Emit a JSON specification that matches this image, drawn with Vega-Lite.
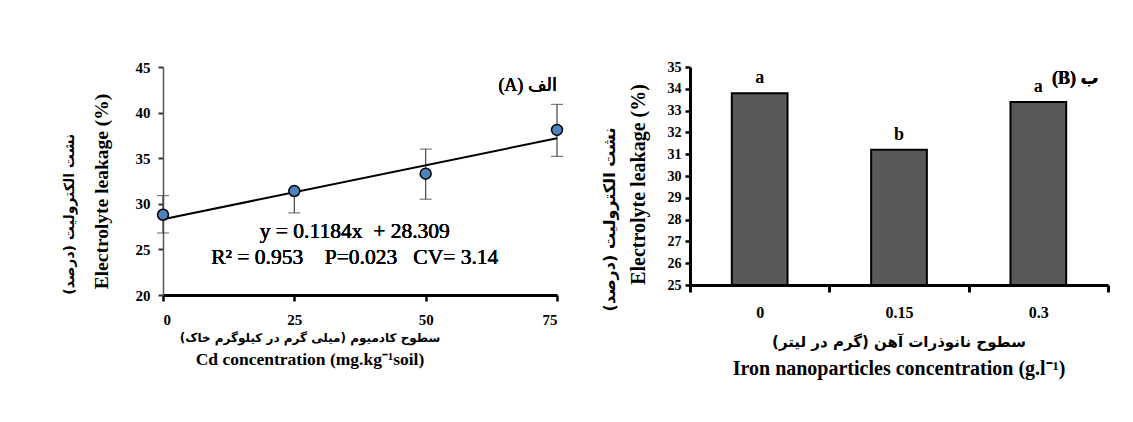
{
  "$schema": "https://vega.github.io/schema/vega-lite/v6.json",
  "padding": {"left": 62, "top": 60, "right": 5, "bottom": 5},
  "spacing": 35,
  "config": {"view": {"stroke": null}, "font": "Liberation Serif"},
  "hconcat": [
    {
      "title": {"text": "نشت الکترولیت (درصد)", "orient": "left", "anchor": "middle", "font": "DejaVu Sans", "fontSize": 14, "fontWeight": "bold", "color": "black", "offset": 14},
      "hconcat": [
        {
          "width": 394,
          "height": 228,
          "title": {
            "text": "سطوح کادمیوم (میلی گرم در کیلوگرم خاک)",
            "subtitle": "Cd concentration (mg.kg⁻¹soil)",
            "orient": "bottom",
            "anchor": "middle",
            "dx": -50,
            "font": "DejaVu Sans",
            "fontSize": 12,
            "fontWeight": "bold",
            "color": "black",
            "subtitleFont": "Liberation Serif",
            "subtitleFontSize": 17.5,
            "subtitleFontWeight": "bold",
            "subtitleColor": "black",
            "offset": 6,
            "subtitlePadding": 6
          },
          "data": {
            "values": [
              {"cd": 0, "leak": 28.8, "lo": 26.8, "hi": 30.9},
              {"cd": 25, "leak": 31.4, "lo": 29.0, "hi": 31.4},
              {"cd": 50, "leak": 33.3, "lo": 30.5, "hi": 36.0},
              {"cd": 75, "leak": 38.1, "lo": 35.2, "hi": 40.9}
            ]
          },
          "layer": [
            {
              "mark": {"type": "rule", "color": "#444", "strokeWidth": 1.2},
              "encoding": {
                "x": {"field": "cd", "type": "quantitative", "scale": {"domain": [0, 75], "nice": false},
                  "axis": {"values": [0, 25, 50, 75], "title": null, "grid": false, "domainWidth": 3, "domainColor": "black", "tickWidth": 2.5, "tickColor": "black", "tickSize": 6, "labelFont": "Liberation Serif", "labelFontWeight": "bold", "labelFontSize": 15, "labelColor": "black", "labelPadding": 11}},
                "y": {"field": "lo", "type": "quantitative", "title": "Electrolyte leakage (%)", "scale": {"domain": [20, 45], "nice": false, "zero": false},
                  "axis": {"values": [20, 25, 30, 35, 40, 45], "grid": false, "domainColor": "#555", "domainWidth": 1.5, "tickColor": "#333", "tickSize": 5, "tickWidth": 2, "labelFont": "Liberation Serif", "labelFontWeight": "bold", "labelFontSize": 15, "labelColor": "black", "labelPadding": 8, "titleFont": "Liberation Serif", "titleFontSize": 19.5, "titleFontWeight": "bold", "titleColor": "black", "titlePadding": 24, "titleY": 124}},
                "y2": {"field": "hi"}
              }
            },
            {
              "mark": {"type": "tick", "orient": "horizontal", "color": "#444", "size": 12, "thickness": 1.2},
              "encoding": {
                "x": {"field": "cd", "type": "quantitative"},
                "y": {"field": "lo", "type": "quantitative", "title": "Electrolyte leakage (%)"}
              }
            },
            {
              "mark": {"type": "tick", "orient": "horizontal", "color": "#444", "size": 12, "thickness": 1.2},
              "encoding": {
                "x": {"field": "cd", "type": "quantitative"},
                "y": {"field": "hi", "type": "quantitative", "title": "Electrolyte leakage (%)"}
              }
            },
            {
              "data": {"values": [{"cd": 0, "leak": 28.309}, {"cd": 75, "leak": 37.189}]},
              "mark": {"type": "line", "color": "black", "strokeWidth": 2},
              "encoding": {
                "x": {"field": "cd", "type": "quantitative"},
                "y": {"field": "leak", "type": "quantitative", "title": "Electrolyte leakage (%)"}
              }
            },
            {
              "mark": {"type": "point", "filled": true, "fill": "#4F81BD", "stroke": "black", "strokeWidth": 1.5, "size": 120, "opacity": 1},
              "encoding": {
                "x": {"field": "cd", "type": "quantitative"},
                "y": {"field": "leak", "type": "quantitative", "title": "Electrolyte leakage (%)"}
              }
            },
            {
              "mark": {"type": "text", "text": "(A) الف", "align": "right", "baseline": "middle", "fontSize": 18, "fontWeight": "normal", "font": "Liberation Serif, DejaVu Sans", "color": "black"},
              "encoding": {"x": {"datum": 75}, "y": {"datum": 42.9}}
            },
            {
              "mark": {"type": "text", "text": ["y = 0.1184x\u00a0\u00a0+ 28.309", "R² = 0.953\u00a0\u00a0\u00a0\u00a0P=0.023\u00a0\u00a0\u00a0CV= 3.14"], "align": "center", "baseline": "middle", "fontSize": 21.5, "fontWeight": "normal", "lineHeight": 26, "font": "Liberation Serif", "color": "black"},
              "encoding": {"x": {"datum": 36.5}, "y": {"datum": 26.9}}
            }
          ]
        }
      ]
    },
    {
      "title": {"text": "نشت الکترولیت (درصد)", "orient": "left", "anchor": "middle", "font": "DejaVu Sans", "fontSize": 16, "fontWeight": "bold", "color": "black", "offset": 10},
      "hconcat": [
        {
          "width": 418,
          "height": 218,
          "title": {
            "text": "سطوح نانوذرات آهن (گرم در لیتر)",
            "subtitle": "Iron nanoparticles concentration (g.l⁻¹)",
            "orient": "bottom",
            "anchor": "middle",
            "font": "DejaVu Sans",
            "fontSize": 15,
            "fontWeight": "bold",
            "color": "black",
            "subtitleFont": "Liberation Serif",
            "subtitleFontSize": 20,
            "subtitleFontWeight": "bold",
            "subtitleColor": "black",
            "offset": 15,
            "subtitlePadding": 9
          },
          "data": {
            "values": [
              {"np": "0", "leak": 33.8, "letter": "a"},
              {"np": "0.15", "leak": 31.2, "letter": "b"},
              {"np": "0.3", "leak": 33.4, "letter": "a"}
            ]
          },
          "encoding": {
            "x": {"field": "np", "type": "nominal", "sort": null, "scale": {"paddingInner": 0, "paddingOuter": 0},
              "axis": {"title": null, "labelAngle": 0, "tickBand": "extent", "domainWidth": 3, "domainColor": "black", "tickWidth": 3, "tickColor": "black", "tickSize": 7, "labelFont": "Liberation Serif", "labelFontWeight": "bold", "labelFontSize": 16, "labelColor": "black", "labelPadding": 12}},
            "y": {"field": "leak", "type": "quantitative", "title": "Electrolyte leakage (%)", "scale": {"domain": [25, 35], "nice": false, "zero": false},
              "axis": {"values": [25, 26, 27, 28, 29, 30, 31, 32, 33, 34, 35], "grid": false, "domainColor": "black", "domainWidth": 3, "tickColor": "black", "tickSize": 5, "tickWidth": 2.5, "labelFont": "Liberation Serif", "labelFontWeight": "bold", "labelFontSize": 14, "labelColor": "black", "labelPadding": 4, "titleFont": "Liberation Serif", "titleFontSize": 20, "titleFontWeight": "bold", "titleColor": "black", "titlePadding": 19, "titleY": 117}}
          },
          "layer": [
            {
              "mark": {"type": "bar", "fill": "#595959", "stroke": "black", "strokeWidth": 2, "width": {"band": 0.4}},
              "encoding": {"y2": {"datum": 25}}
            },
            {
              "mark": {"type": "text", "baseline": "bottom", "dy": -6, "fontSize": 18, "fontWeight": "bold", "font": "Liberation Serif", "color": "black"},
              "encoding": {"text": {"field": "letter"}}
            },
            {
              "mark": {"type": "text", "text": "(B) ب", "align": "center", "baseline": "middle", "dx": 37, "fontSize": 18, "fontWeight": "bold", "font": "Liberation Serif, DejaVu Sans", "color": "black"},
              "encoding": {"x": {"datum": "0.3"}, "y": {"datum": 34.45}, "text": null}
            }
          ]
        }
      ]
    }
  ]
}
